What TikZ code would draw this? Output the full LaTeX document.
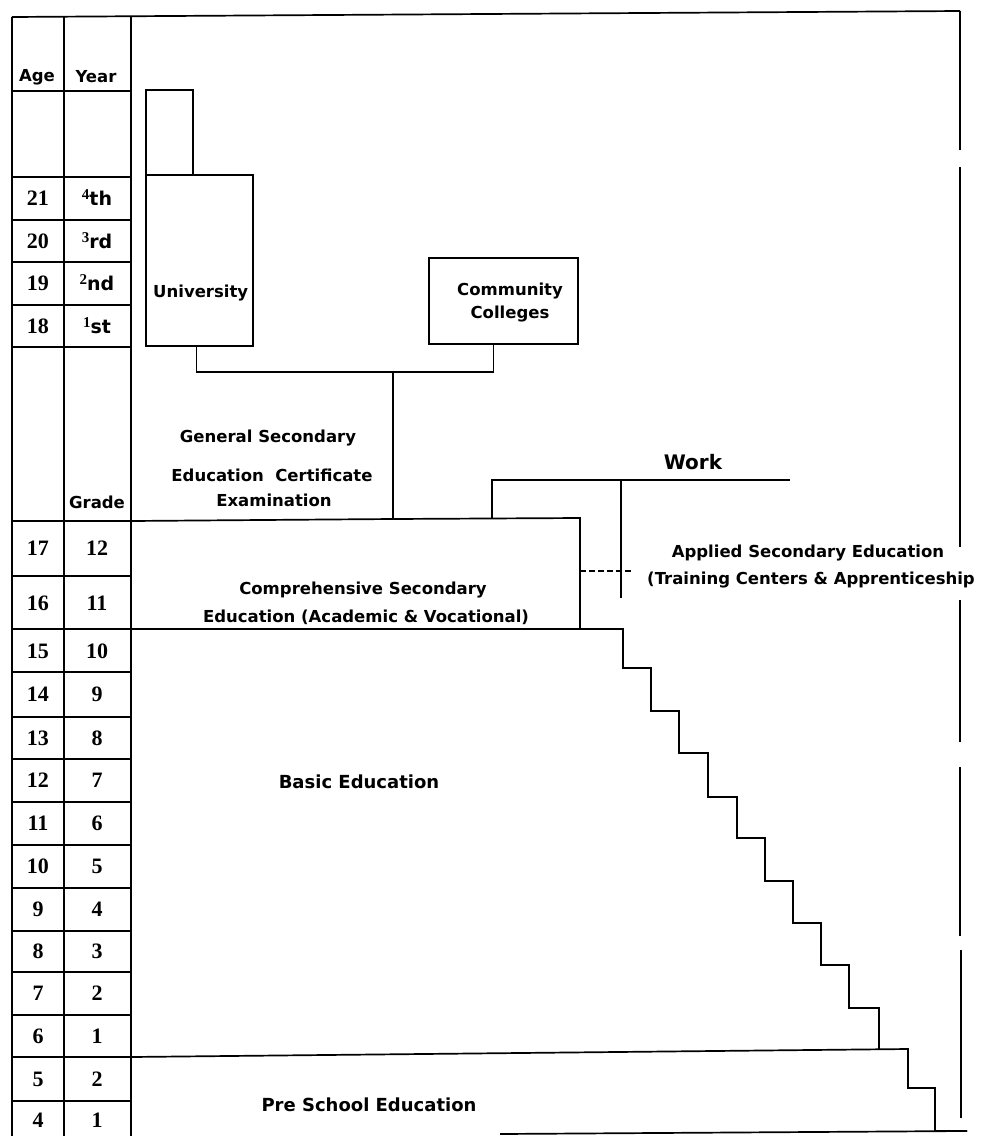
\documentclass[tikz,border=0pt]{standalone}
\usepackage{fontspec}
\setmainfont{DejaVu Sans}
\newfontfamily\numfont{Liberation Serif}
\usepackage{tikz}
\usetikzlibrary{calc}
\tikzset{
  rule/.style={line width=1.7pt},
  lbl/.style={font=\bfseries\fontsize{16.5}{23}\selectfont, inner sep=0pt, align=center},
  biglbl/.style={font=\bfseries\fontsize{18}{22}\selectfont, inner sep=0pt},
  num/.style={font=\numfont\bfseries\fontsize{22}{22}\selectfont, inner sep=0pt},
  boxframe/.style={draw, line width=1.7pt, inner sep=0pt, anchor=north west},
}
\newcommand{\ordyear}[2]{\raisebox{6pt}{\numfont\bfseries\fontsize{15}{15}\selectfont #1}{\fontsize{19}{19}\selectfont #2}}

\begin{document}
\begin{tikzpicture}[x=1pt,y=-1pt]
  \useasboundingbox (0,0) rectangle (981,1138);
  % outer frame
  \draw[rule] (12,17) -- (960,11);
  \draw[rule] (960,11) -- (960,150);
  \draw[rule] (960,167) -- (960,547);
  \draw[rule] (960,600) -- (960,742);
  \draw[rule] (960,767) -- (960,936);
  \draw[rule] (961,950) -- (961,1118);
  \draw[rule] (500,1134) -- (967,1131);

  % age / year table
  \draw[rule] (12,17) -- (12,1136);
  \draw[rule] (64,17) -- (64,1136);
  \draw[rule] (131,17) -- (131,1136);
  \foreach \y in {91,177,220,262,305,347,521,576,629,672,717,759,802,845,888,931,972,1015,1057,1101}
    \draw[rule] (12,\y) -- (131,\y);
  \node[lbl] (hAge) at (37,77) {Age};
  \node[lbl] (hYear) at (96,77) {Year};
  \node[lbl] (hGrade) at (97,502) {Grade};
  \foreach \a/\r/\y in {21/4/198,20/3/241,19/2/283,18/1/326}
    \node[num] (age\a) at (38,\y) {\a};
  \node[lbl] (yr4) at (97,198) {\ordyear{4}{th}};
  \node[lbl] (yr3) at (97,241) {\ordyear{3}{rd}};
  \node[lbl] (yr2) at (97,283) {\ordyear{2}{nd}};
  \node[lbl] (yr1) at (97,326) {\ordyear{1}{st}};
  \foreach \a/\g/\y in {17/12/548,16/11/603,15/10/651,14/9/694,13/8/738,12/7/780,11/6/823,
                        10/5/866,9/4/909,8/3/951,7/2/993,6/1/1036,5/2/1079,4/1/1120}
    \node[num] (grade\a) at (38,\y) {\a} node[num] at (97,\y) {\g};

  % university and community colleges
  \node[boxframe, minimum width=47pt, minimum height=85pt] (uniTop) at (145,89) {};
  \node[boxframe, minimum width=107pt, minimum height=171pt] (uni) at (145,174) {};
  \node[lbl, anchor=west] (uniTxt) at (153,293) {University};
  \node[boxframe, minimum width=149pt, minimum height=86pt] (cc) at (428,257) {};
  \node[lbl] (ccTxt) at (510,303) {Community\\Colleges};
  \coordinate (jn) at (393,372);
  \coordinate (gsec) at (393,519);
  \draw[rule] ([xshift=-3pt]uni.south) |- (jn) -| ([xshift=-10pt]cc.south);
  \draw[rule] (jn) -- (gsec);

  % general secondary certificate
  \node[lbl] (gen1) at (268,438) {General Secondary};
  \node[lbl] (gen2) at (272,475) {Education\ \ Certificate};
  \node[lbl] (gen3) at (274,500) {Examination};

  % comprehensive secondary
  \draw[rule] (131,521) -- (gsec) -- (580,518) -- (580,629);
  \node[lbl] (comp1) at (363,590) {Comprehensive Secondary};
  \node[lbl] (comp2) at (366,617) {Education (Academic \& Vocational)};

  % work and applied secondary
  \coordinate (wk) at (492,518);
  \draw[rule] (wk) |- (790,480);
  \node[font=\bfseries\fontsize{20}{22}\selectfont, inner sep=0pt] (work) at (693,462) {Work};
  \draw[rule] (621,480) -- (621,598);
  \draw[rule, dash pattern=on 6pt off 3pt] (580,571) -- (633,571);
  \node[lbl] (app1) at (808,553) {Applied Secondary Education};
  \node[lbl] (app2) at (811,580) {(Training Centers \& Apprenticeship};

  % basic education staircase
  \draw[rule] (131,629) -- (623,629) -- (623,668) -- (651,668) -- (651,711) -- (679,711)
    -- (679,753) -- (708,753) -- (708,797) -- (737,797) -- (737,838) -- (765,838)
    -- (765,881) -- (793,881) -- (793,923) -- (821,923) -- (821,965) -- (849,965)
    -- (849,1008) -- (879,1008) -- (879,1050);
  \node[biglbl] (basic) at (359,782) {Basic Education};

  % pre school
  \draw[rule] (131,1057) -- (908,1049) -- (908,1088) -- (935,1088) -- (935,1131) -- (967,1131);
  \node[biglbl] (pre) at (369,1105) {Pre School Education};
\end{tikzpicture}
\end{document}
